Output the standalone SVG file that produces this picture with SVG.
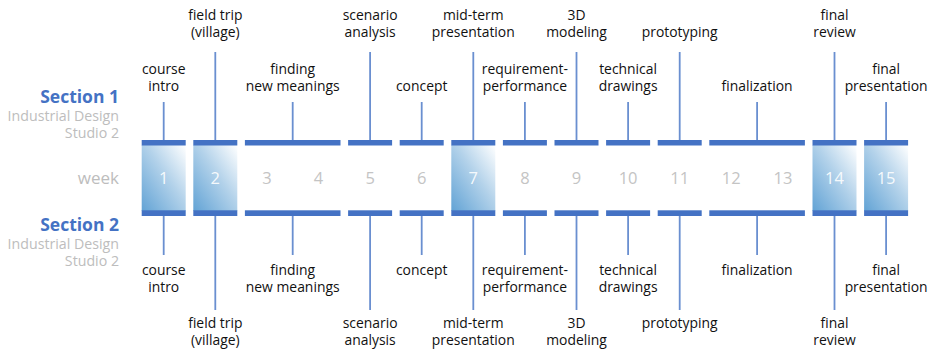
<svg xmlns="http://www.w3.org/2000/svg" width="936" height="353" viewBox="0 0 936 353">
<defs>
<linearGradient id="g" x1="0" y1="1" x2="1" y2="0">
<stop offset="0" stop-color="#62a3d5"/>
<stop offset="0.55" stop-color="#b3d2ea"/>
<stop offset="1" stop-color="#ffffff"/>
</linearGradient>
</defs>
<style>
text{font-family:"Open Sans","Noto Sans","Liberation Sans",sans-serif;}
.lb{font-size:13.9px;fill:#111;text-anchor:middle;}
.sec{font-size:17.5px;font-weight:bold;fill:#4472c4;text-anchor:end;}
.sub{font-size:14.2px;fill:#bdbdbd;text-anchor:end;}
.wk{font-size:17px;fill:#bdbdbd;text-anchor:end;}
.num{font-size:16.5px;fill:#c4c4c4;text-anchor:middle;}
.numw{font-size:16.5px;fill:#ffffff;fill-opacity:0.9;text-anchor:middle;}
.bar{fill:#4472c4;}
.box{fill:url(#g);}
.ln{stroke:#6a8fd0;stroke-width:1.8;fill:none;}
</style>
<rect width="936" height="353" fill="#ffffff"/>

<g id="legend">
<text class="sec" x="119" y="103">Section 1</text>
<text class="sub" x="119" y="121">Industrial Design</text>
<text class="sub" x="119" y="138">Studio 2</text>
<text class="wk" x="119" y="184">week</text>
<text class="sec" x="119" y="231">Section 2</text>
<text class="sub" x="119" y="248.5">Industrial Design</text>
<text class="sub" x="119" y="266">Studio 2</text>
</g>

<g id="weeks">
<g id="week-1"><rect class="box" x="141.7" y="145" width="44" height="66"/><rect class="bar" x="141.7" y="140" width="44" height="5.5"/><rect class="bar" x="141.7" y="210.3" width="44" height="5.7"/><text class="numw" x="163.7" y="184">1</text></g>
<g id="week-2"><rect class="box" x="193.3" y="145" width="44" height="66"/><rect class="bar" x="193.3" y="140" width="44" height="5.5"/><rect class="bar" x="193.3" y="210.3" width="44" height="5.7"/><text class="numw" x="215.3" y="184">2</text></g>
<g id="week-3-4"><rect class="bar" x="244.9" y="140" width="95.6" height="5.5"/><rect class="bar" x="244.9" y="210.3" width="95.6" height="5.7"/><text class="num" x="266.9" y="184">3</text><text class="num" x="318.5" y="184">4</text></g>
<g id="week-5"><rect class="bar" x="348.1" y="140" width="44" height="5.5"/><rect class="bar" x="348.1" y="210.3" width="44" height="5.7"/><text class="num" x="370.1" y="184">5</text></g>
<g id="week-6"><rect class="bar" x="399.7" y="140" width="44" height="5.5"/><rect class="bar" x="399.7" y="210.3" width="44" height="5.7"/><text class="num" x="421.7" y="184">6</text></g>
<g id="week-7"><rect class="box" x="451.3" y="145" width="44" height="66"/><rect class="bar" x="451.3" y="140" width="44" height="5.5"/><rect class="bar" x="451.3" y="210.3" width="44" height="5.7"/><text class="numw" x="473.3" y="184">7</text></g>
<g id="week-8"><rect class="bar" x="502.9" y="140" width="44" height="5.5"/><rect class="bar" x="502.9" y="210.3" width="44" height="5.7"/><text class="num" x="524.9" y="184">8</text></g>
<g id="week-9"><rect class="bar" x="554.5" y="140" width="44" height="5.5"/><rect class="bar" x="554.5" y="210.3" width="44" height="5.7"/><text class="num" x="576.5" y="184">9</text></g>
<g id="week-10"><rect class="bar" x="606.1" y="140" width="44" height="5.5"/><rect class="bar" x="606.1" y="210.3" width="44" height="5.7"/><text class="num" x="628.1" y="184">10</text></g>
<g id="week-11"><rect class="bar" x="657.7" y="140" width="44" height="5.5"/><rect class="bar" x="657.7" y="210.3" width="44" height="5.7"/><text class="num" x="679.7" y="184">11</text></g>
<g id="week-12-13"><rect class="bar" x="709.3" y="140" width="95.6" height="5.5"/><rect class="bar" x="709.3" y="210.3" width="95.6" height="5.7"/><text class="num" x="731.3" y="184">12</text><text class="num" x="782.9" y="184">13</text></g>
<g id="week-14"><rect class="box" x="812.5" y="145" width="44" height="66"/><rect class="bar" x="812.5" y="140" width="44" height="5.5"/><rect class="bar" x="812.5" y="210.3" width="44" height="5.7"/><text class="numw" x="834.5" y="184">14</text></g>
<g id="week-15"><rect class="box" x="864.1" y="145" width="44" height="66"/><rect class="bar" x="864.1" y="140" width="44" height="5.5"/><rect class="bar" x="864.1" y="210.3" width="44" height="5.7"/><text class="numw" x="886.1" y="184">15</text></g>
</g>

<g id="connectors">
<path class="ln" d="M163.7 102V140M215.3 52V140M292.7 102V140M370.1 52V140M421.7 102V140M473.3 52V140M524.9 102V140M576.5 52V140M628.1 102V140M679.7 52V140M757.1 102V140M834.5 52V140M886.1 102V140"/>
<path class="ln" d="M163.7 216V255M215.3 216V310M292.7 216V255M370.1 216V310M421.7 216V255M473.3 216V310M524.9 216V255M576.5 216V310M628.1 216V255M679.7 216V310M757.1 216V255M834.5 216V310M886.1 216V255"/>
</g>

<g id="labels-s1">
<g id="s1-course-intro"><text class="lb" x="163.7" y="74">course</text><text class="lb" x="163.7" y="91">intro</text></g>
<g id="s1-field-trip"><text class="lb" x="215.3" y="20">field trip</text><text class="lb" x="215.3" y="37">(village)</text></g>
<g id="s1-finding"><text class="lb" x="292.7" y="74">finding</text><text class="lb" x="292.7" y="91">new meanings</text></g>
<g id="s1-scenario"><text class="lb" x="370.1" y="20">scenario</text><text class="lb" x="370.1" y="37">analysis</text></g>
<g id="s1-concept"><text class="lb" x="421.7" y="91">concept</text></g>
<g id="s1-midterm"><text class="lb" x="473.3" y="20">mid-term</text><text class="lb" x="473.3" y="37">presentation</text></g>
<g id="s1-requirement"><text class="lb" x="524.9" y="74">requirement-</text><text class="lb" x="524.9" y="91">performance</text></g>
<g id="s1-3d"><text class="lb" x="576.5" y="20">3D</text><text class="lb" x="576.5" y="37">modeling</text></g>
<g id="s1-technical"><text class="lb" x="628.1" y="74">technical</text><text class="lb" x="628.1" y="91">drawings</text></g>
<g id="s1-prototyping"><text class="lb" x="679.7" y="37">prototyping</text></g>
<g id="s1-finalization"><text class="lb" x="757.1" y="91">finalization</text></g>
<g id="s1-final-review"><text class="lb" x="834.5" y="20">final</text><text class="lb" x="834.5" y="37">review</text></g>
<g id="s1-final-pres"><text class="lb" x="886.1" y="74">final</text><text class="lb" x="886.1" y="91">presentation</text></g>
</g>

<g id="labels-s2">
<g id="s2-course-intro"><text class="lb" x="163.7" y="275">course</text><text class="lb" x="163.7" y="292">intro</text></g>
<g id="s2-field-trip"><text class="lb" x="215.3" y="328">field trip</text><text class="lb" x="215.3" y="345">(village)</text></g>
<g id="s2-finding"><text class="lb" x="292.7" y="275">finding</text><text class="lb" x="292.7" y="292">new meanings</text></g>
<g id="s2-scenario"><text class="lb" x="370.1" y="328">scenario</text><text class="lb" x="370.1" y="345">analysis</text></g>
<g id="s2-concept"><text class="lb" x="421.7" y="275">concept</text></g>
<g id="s2-midterm"><text class="lb" x="473.3" y="328">mid-term</text><text class="lb" x="473.3" y="345">presentation</text></g>
<g id="s2-requirement"><text class="lb" x="524.9" y="275">requirement-</text><text class="lb" x="524.9" y="292">performance</text></g>
<g id="s2-3d"><text class="lb" x="576.5" y="328">3D</text><text class="lb" x="576.5" y="345">modeling</text></g>
<g id="s2-technical"><text class="lb" x="628.1" y="275">technical</text><text class="lb" x="628.1" y="292">drawings</text></g>
<g id="s2-prototyping"><text class="lb" x="679.7" y="328">prototyping</text></g>
<g id="s2-finalization"><text class="lb" x="757.1" y="275">finalization</text></g>
<g id="s2-final-review"><text class="lb" x="834.5" y="328">final</text><text class="lb" x="834.5" y="345">review</text></g>
<g id="s2-final-pres"><text class="lb" x="886.1" y="275">final</text><text class="lb" x="886.1" y="292">presentation</text></g>
</g>
</svg>
